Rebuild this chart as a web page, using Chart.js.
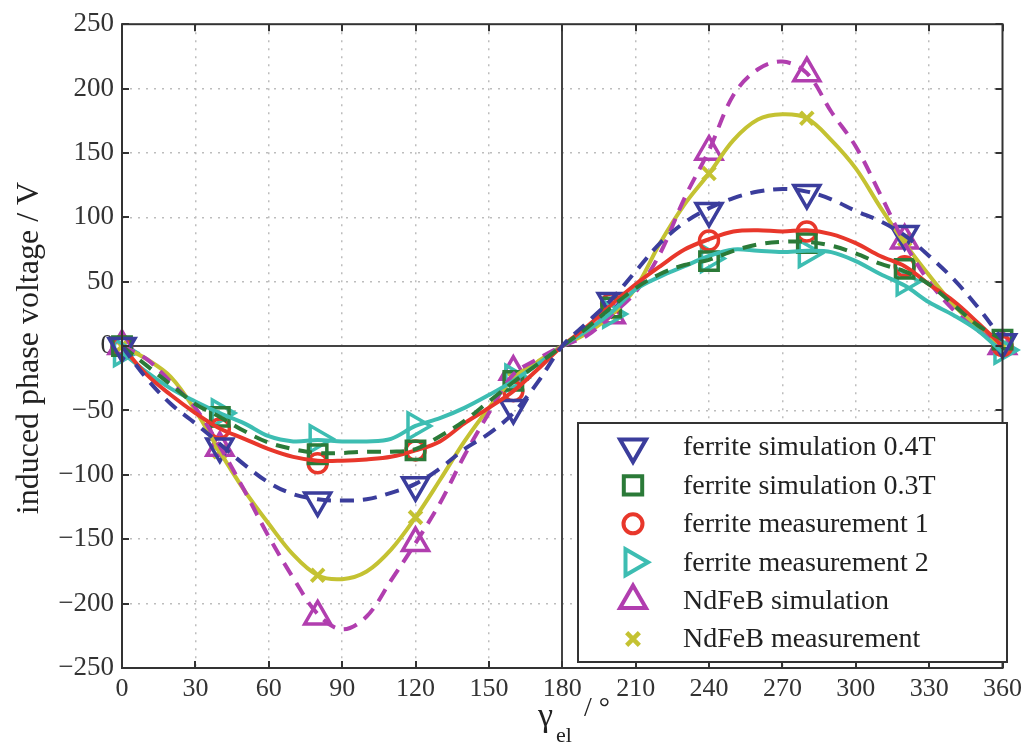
<!DOCTYPE html>
<html>
<head>
<meta charset="utf-8">
<script src="https://cdn.jsdelivr.net/npm/chart.js@4.4.1/dist/chart.umd.min.js"></script>
<style>
  html, body { margin: 0; padding: 0; background: #fff; }
  #chart { display: block; }
</style>
</head>
<body>
<canvas id="chart" width="1028" height="749"></canvas>
<script>
// angles for the smooth curves and for the measurement markers
const lineAngles = [0, 10, 20, 30, 40, 50, 60, 70, 80, 90, 100, 110, 120, 130, 140, 150, 160, 170, 180,
  190, 200, 210, 220, 230, 240, 250, 260, 270, 280, 290, 300, 310, 320, 330, 340, 350, 360];
const markerAngles = [0, 40, 80, 120, 160, 200, 240, 280, 320, 360];

const xTicks = [0, 30, 60, 90, 120, 150, 180, 210, 240, 270, 300, 330, 360];
const yTicks = [-250, -200, -150, -100, -50, 0, 50, 100, 150, 200, 250];

const seriesNames = ['ferrite simulation 0.4T', 'ferrite simulation 0.3T', 'ferrite measurement 1',
  'ferrite measurement 2', 'NdFeB simulation', 'NdFeB measurement'];

// curves
const sim04Line = [0, -25, -45, -60, -76, -92, -106, -115, -119, -120, -119, -114, -107, -95, -80, -68, -52, -28, 0,
  18, 36, 58, 80, 96, 107, 115, 120, 122, 120, 114, 105, 97, 86, 70, 52, 30, 5];
const sim03Line = [0, -15, -30, -45, -55, -66, -75, -80, -83, -83, -82, -82, -80, -70, -58, -43, -28, -14, 0,
  14, 30, 45, 56, 63, 67, 74, 79, 81, 81, 78, 72, 64, 58, 48, 32, 16, 5];
const meas1Line = [0, -22, -38, -52, -64, -72, -80, -86, -89, -89, -88, -86, -81, -74, -60, -48, -35, -18, 0,
  15, 32, 48, 62, 75, 83, 89, 90, 89, 90, 87, 80, 70, 62, 48, 35, 18, 0];
const meas2Line = [-5, -20, -33, -43, -52, -60, -70, -74, -73, -74, -74, -72, -62, -56, -48, -38, -27, -14, 0,
  12, 26, 44, 54, 62, 70, 75, 74, 73, 74, 73, 66, 56, 47, 34, 24, 12, -5];
const ndSimLine = [0, -10, -28, -48, -78, -112, -148, -180, -208, -220, -210, -182, -153, -122, -85, -52, -22, -10, 0,
  8, 24, 42, 72, 115, 152, 195, 215, 221, 212, 182, 155, 118, 80, 50, 28, 12, 0];
const ndMeasLine = [0, -10, -24, -50, -82, -112, -138, -162, -178, -181, -175, -158, -133, -104, -74, -48, -25, -12, 0,
  10, 24, 45, 80, 110, 134, 160, 176, 180, 177, 160, 138, 108, 80, 55, 32, 14, 0];

// markers
const sim04Markers = [0, -78, -120, -108, -48, 35, 105, 119, 87, 3];
const sim03Markers = [0, -55, -84, -81, -27, 30, 66, 80, 60, 5];
const meas1Markers = [0, -64, -91, -81, -35, 33, 82, 89, 62, 0];
const meas2Markers = [-5, -52, -72, -62, -25, 25, 68, 72, 50, -3];
const ndSimMarkers = [0, -79, -210, -153, -20, 24, 151, 212, 82, 0];
const ndMeasMarkers = [0, -82, -178, -133, -25, 24, 134, 177, 83, 0];

const SERIF = "'Liberation Serif', 'Times New Roman', 'DejaVu Serif', serif";

const styles = [
  { color: '#3b3d9c', dash: [14, 9], point: 'triangle', rot: 180, r: 15, bw: 3.5 },
  { color: '#2b7a38', dash: [14, 9], point: 'rect', rot: 0, r: 13, bw: 3.5 },
  { color: '#e8372b', dash: [], point: 'circle', rot: 0, r: 9.5, bw: 3.5 },
  { color: '#3dbdb2', dash: [], point: 'triangle', rot: 90, r: 15, bw: 3.5 },
  { color: '#b13eaf', dash: [14, 9], point: 'triangle', rot: 0, r: 15, bw: 3.5 },
  { color: '#c4c232', dash: [], point: 'crossRot', rot: 0, r: 9, bw: 4 }
];

const lineSets = [sim04Line, sim03Line, meas1Line, meas2Line, ndSimLine, ndMeasLine];
const markerSets = [sim04Markers, sim03Markers, meas1Markers, meas2Markers, ndSimMarkers, ndMeasMarkers];

function toPoints(xs, ys) {
  return xs.map(function (x, i) { return { x: x, y: ys[i] }; });
}

var datasets = [];
lineSets.forEach(function (vals, i) {
  var s = styles[i];
  datasets.push({
    label: seriesNames[i] + ' curve',
    data: toPoints(lineAngles, vals),
    showLine: true,
    borderColor: s.color,
    borderWidth: 4,
    borderDash: s.dash,
    tension: 0.35,
    pointRadius: 0,
    fill: false
  });
});
markerSets.forEach(function (vals, i) {
  var s = styles[i];
  datasets.push({
    label: seriesNames[i],
    data: toPoints(markerAngles, vals),
    showLine: false,
    pointStyle: s.point,
    rotation: s.rot,
    pointRadius: s.r,
    pointBorderWidth: s.bw,
    pointBorderColor: s.color,
    pointBackgroundColor: 'rgba(0,0,0,0)',
    borderColor: s.color,
    clip: false
  });
});

// zero line and 180 line behind the curves
const axisLines = {
  id: 'axisLines',
  beforeDatasetsDraw: function (chart) {
    var ctx = chart.ctx, a = chart.chartArea;
    var x = chart.scales.x, y = chart.scales.y;
    ctx.save();
    ctx.strokeStyle = '#444';
    ctx.lineWidth = 2;
    ctx.beginPath();
    var y0 = Math.round(y.getPixelForValue(0));
    ctx.moveTo(a.left, y0); ctx.lineTo(a.right, y0);
    var x180 = Math.round(x.getPixelForValue(180));
    ctx.moveTo(x180, a.top); ctx.lineTo(x180, a.bottom);
    ctx.stroke();
    ctx.restore();
  }
};

// frame, inner ticks, legend and axis titles
const decorations = {
  id: 'decorations',
  afterDraw: function (chart) {
    var ctx = chart.ctx, a = chart.chartArea;
    var x = chart.scales.x, y = chart.scales.y;
    ctx.save();
    ctx.strokeStyle = '#333';
    ctx.lineWidth = 2;
    ctx.strokeRect(a.left, a.top, a.right - a.left, a.bottom - a.top);

    var tl = 7;
    ctx.beginPath();
    xTicks.forEach(function (v) {
      var px = Math.round(x.getPixelForValue(v));
      ctx.moveTo(px, a.bottom); ctx.lineTo(px, a.bottom - tl);
      ctx.moveTo(px, a.top); ctx.lineTo(px, a.top + tl);
    });
    yTicks.forEach(function (v) {
      var py = Math.round(y.getPixelForValue(v));
      ctx.moveTo(a.left, py); ctx.lineTo(a.left + tl, py);
      ctx.moveTo(a.right, py); ctx.lineTo(a.right - tl, py);
    });
    ctx.stroke();

    // legend
    var lx = 578, ly = 423, lw = 429, lh = 239;
    ctx.fillStyle = '#fff';
    ctx.fillRect(lx, ly, lw, lh);
    ctx.strokeStyle = '#333';
    ctx.lineWidth = 2;
    ctx.strokeRect(lx, ly, lw, lh);
    ctx.font = '28px ' + SERIF;
    ctx.textBaseline = 'middle';
    ctx.textAlign = 'left';
    seriesNames.forEach(function (name, i) {
      var s = styles[i];
      var cy = 447 + i * 38.4;
      ctx.save();
      ctx.strokeStyle = s.color;
      ctx.fillStyle = 'rgba(0,0,0,0)';
      ctx.lineWidth = s.bw + 0.5;
      Chart.helpers.drawPoint(ctx, { pointStyle: s.point, rotation: s.rot, radius: s.r, borderWidth: s.bw }, 633, cy);
      ctx.restore();
      ctx.fillStyle = '#222';
      ctx.fillText(name, 683, cy + 1);
    });

    // x title: gamma_el / degree
    ctx.fillStyle = '#222';
    ctx.textBaseline = 'alphabetic';
    ctx.font = '34px ' + SERIF;
    ctx.fillText('γ', 538, 726);
    ctx.font = '22px ' + SERIF;
    ctx.fillText('el', 556, 742);
    ctx.font = '28px ' + SERIF;
    ctx.fillText('/ °', 584, 716);

    // y title
    ctx.save();
    ctx.translate(30, 348);
    ctx.rotate(-Math.PI / 2);
    ctx.textAlign = 'center';
    ctx.textBaseline = 'middle';
    ctx.font = '32px ' + SERIF;
    ctx.fillText('induced phase voltage / V', 0, 0);
    ctx.restore();

    ctx.restore();
  }
};

Chart.defaults.font.family = SERIF;

new Chart(document.getElementById('chart').getContext('2d'), {
  type: 'scatter',
  data: { datasets: datasets },
  options: {
    responsive: false,
    animation: false,
    devicePixelRatio: 1,
    layout: { padding: { left: 0, right: 23, top: 23, bottom: 0 } },
    plugins: { legend: { display: false }, tooltip: { enabled: false } },
    scales: {
      x: {
        type: 'linear',
        min: 0, max: 360,
        afterBuildTicks: function (s) { s.ticks = xTicks.map(function (v) { return { value: v }; }); },
        afterFit: function (s) { s.height = 81; },
        ticks: { color: '#333', font: { size: 26 }, padding: 6, maxRotation: 0 },
        grid: {
          drawTicks: false,
          color: function (c) { return (c.tick && (c.tick.value === 180 || c.tick.value === 0 || c.tick.value === 360)) ? 'rgba(0,0,0,0)' : '#bdbdbd'; },
          lineWidth: 1.5
        },
        border: { display: false, dash: [2, 6] }
      },
      y: {
        type: 'linear',
        min: -250, max: 250,
        afterBuildTicks: function (s) { s.ticks = yTicks.map(function (v) { return { value: v }; }); },
        afterFit: function (s) { s.width = 122; },
        ticks: {
          color: '#333', font: { size: 27 }, padding: 8,
          callback: function (v) { return String(v).replace('-', '\u2212'); }
        },
        grid: {
          drawTicks: false,
          color: function (c) { return (c.tick && (c.tick.value === 0 || Math.abs(c.tick.value) === 250)) ? 'rgba(0,0,0,0)' : '#bdbdbd'; },
          lineWidth: 1.5
        },
        border: { display: false, dash: [2, 6] }
      }
    }
  },
  plugins: [axisLines, decorations]
});
</script>
</body>
</html>
